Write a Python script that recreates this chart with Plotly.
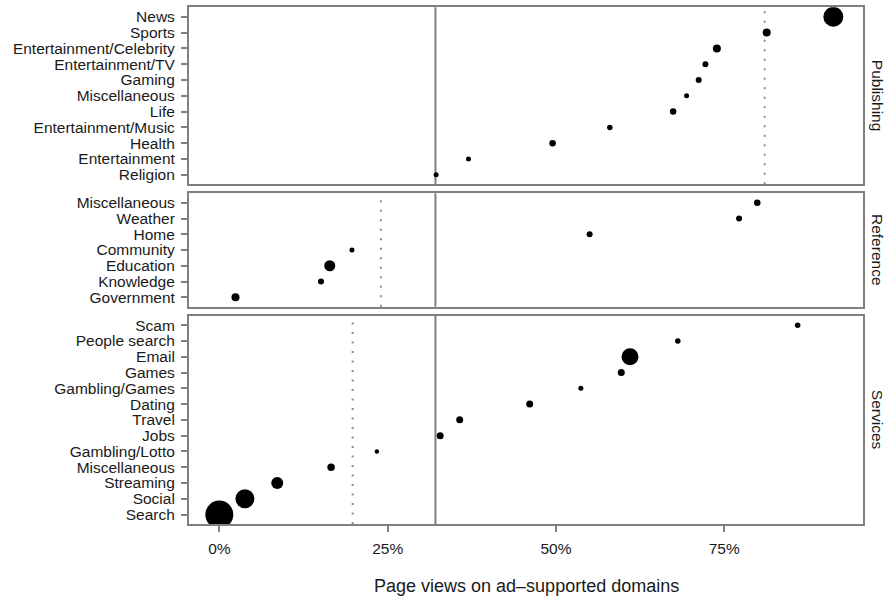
import plotly.graph_objects as go

W, H = 886, 598

# ---- data (top-to-bottom order within each panel) ----
pub_cats = ["News", "Sports", "Entertainment/Celebrity", "Entertainment/TV", "Gaming",
            "Miscellaneous", "Life", "Entertainment/Music", "Health", "Entertainment", "Religion"]
pub_vals = [0.912, 0.813, 0.739, 0.722, 0.712, 0.694, 0.674, 0.580, 0.495, 0.370, 0.322]
pub_size = [20, 8, 8, 6, 6, 5, 6.5, 5.5, 6.5, 5, 5]

ref_cats = ["Miscellaneous", "Weather", "Home", "Community", "Education", "Knowledge", "Government"]
ref_vals = [0.799, 0.772, 0.550, 0.197, 0.164, 0.151, 0.024]
ref_size = [6.5, 6, 6, 5, 11, 6, 8]

srv_cats = ["Scam", "People search", "Email", "Games", "Gambling/Games", "Dating", "Travel",
            "Jobs", "Gambling/Lotto", "Miscellaneous", "Streaming", "Social", "Search"]
srv_vals = [0.859, 0.681, 0.610, 0.597, 0.537, 0.461, 0.357, 0.328, 0.234, 0.166, 0.086, 0.038, 0.0]
srv_size = [5.5, 5.5, 17, 7, 5, 7, 7, 7, 4.5, 7.5, 12, 19, 28]

panels = ["Publishing", "Reference", "Services"]
overall_ref = 0.321
panel_means = [0.810, 0.240, 0.198]

x_ticks = [0, 0.25, 0.5, 0.75]
x_ticktext = ["0%", "25%", "50%", "75%"]
x_title = "Page views on ad\u2013supported domains"

# ---- layout geometry (pixels) ----
x_left, x_right = 188.7, 863.3
panel_px = [(7.3, 184.3), (193.3, 306.7), (315.7, 524.0)]

FONT = "Liberation Sans, Arial, sans-serif"
TXT = "#1a1a1a"
GRAY = "#7f7f7f"
TICKSZ = 15.5

fig = go.Figure()
data = [(pub_cats, pub_vals, pub_size), (ref_cats, ref_vals, ref_size), (srv_cats, srv_vals, srv_size)]

layout = dict(
    width=W, height=H, margin=dict(l=0, r=0, t=0, b=0),
    paper_bgcolor="white", plot_bgcolor="white", showlegend=False,
    font=dict(family=FONT, size=TICKSZ, color=TXT),
)
shapes = []
annotations = []

for i, (cats, vals, sizes) in enumerate(data):
    k = "" if i == 0 else str(i + 1)
    fig.add_trace(go.Scatter(
        x=vals, y=cats, mode="markers",
        marker=dict(color="black", size=sizes, opacity=1, line=dict(width=0)),
        xaxis="x" + k, yaxis="y" + k, cliponaxis=True, hoverinfo="x+y",
    ))
    top, bot = panel_px[i]
    ydom = [1 - bot / H, 1 - top / H]
    n = len(cats)
    layout["xaxis" + k] = dict(
        domain=[x_left / W, x_right / W], anchor="y" + k, range=[-0.0455, 0.9565],
        tickmode="array", tickvals=x_ticks, ticktext=x_ticktext,
        showticklabels=(i == 2), ticks="outside" if i == 2 else "",
        ticklen=6, tickwidth=1.5, tickcolor=GRAY,
        showgrid=False, zeroline=False, showline=True, linecolor=GRAY, linewidth=1.5,
        mirror=True, tickfont=dict(size=TICKSZ, color=TXT), automargin=False,
        ticklabelstandoff=4,
    )
    layout["yaxis" + k] = dict(
        domain=ydom, anchor="x" + k, type="category",
        categoryorder="array", categoryarray=list(reversed(cats)),
        tickmode="array", tickvals=cats, ticktext=cats,
        range=[-0.6, n - 0.4], ticks="outside", ticklen=6, tickwidth=1.5, tickcolor=GRAY,
        showgrid=False, zeroline=False, showline=True, linecolor=GRAY, linewidth=1.5,
        mirror=True, tickfont=dict(size=TICKSZ, color=TXT), automargin=False,
        ticklabelstandoff=3,
    )
    # overall reference line (solid)
    shapes.append(dict(type="line", xref="x" + k, yref=("y" + k) + " domain",
                       x0=overall_ref, x1=overall_ref, y0=0, y1=1,
                       line=dict(color=GRAY, width=2), layer="below"))
    # panel mean line (dotted)
    shapes.append(dict(type="line", xref="x" + k, yref=("y" + k) + " domain",
                       x0=panel_means[i], x1=panel_means[i], y0=0, y1=1,
                       line=dict(color="#8c8c8c", width=2, dash="2px,7.5px"), layer="below"))
    # strip label
    annotations.append(dict(text=panels[i], xref="paper", yref="paper",
                            x=877 / W, y=(ydom[0] + ydom[1]) / 2, showarrow=False,
                            textangle=90, font=dict(size=TICKSZ, color=TXT),
                            xanchor="center", yanchor="middle"))

annotations.append(dict(text=x_title, xref="paper", yref="paper",
                        x=(x_left + x_right) / 2 / W, y=1 - 586 / H, showarrow=False,
                        font=dict(size=18, color=TXT), xanchor="center", yanchor="middle"))

layout["shapes"] = shapes
layout["annotations"] = annotations
fig.update_layout(**layout)
fig.write_html("out.html")
